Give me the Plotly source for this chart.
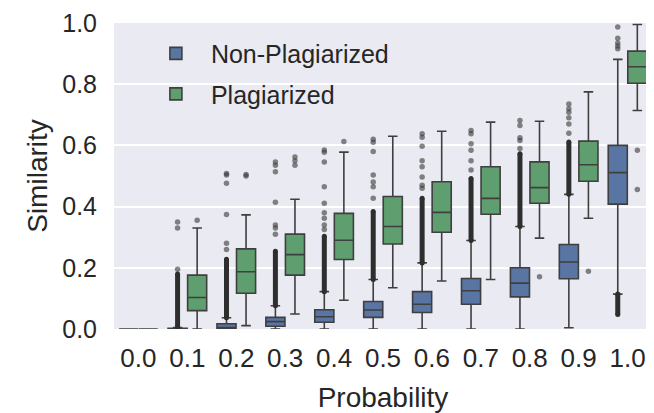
import plotly.graph_objects as go

categories = ["0.0", "0.1", "0.2", "0.3", "0.4", "0.5", "0.6", "0.7", "0.8", "0.9", "1.0"]

# Non-Plagiarized box statistics
np_q1 = [0.0, 0.0, 0.0, 0.009, 0.022, 0.038, 0.054, 0.081, 0.105, 0.164, 0.408]
np_med = [0.0, 0.0, 0.005, 0.024, 0.040, 0.062, 0.081, 0.125, 0.150, 0.219, 0.511]
np_q3 = [0.0, 0.002, 0.017, 0.038, 0.063, 0.090, 0.122, 0.165, 0.200, 0.276, 0.600]
np_lo = [0.0, 0.0, 0.0, 0.0, 0.0, 0.0, 0.0, 0.0, 0.0, 0.004, 0.114]
np_hi = [0.0, 0.005, 0.037, 0.076, 0.122, 0.162, 0.216, 0.289, 0.335, 0.440, 0.881]

# Plagiarized box statistics
pl_q1 = [0.0, 0.060, 0.117, 0.176, 0.227, 0.278, 0.316, 0.375, 0.411, 0.483, 0.803]
pl_med = [0.0, 0.103, 0.187, 0.243, 0.290, 0.335, 0.381, 0.427, 0.462, 0.537, 0.857]
pl_q3 = [0.0, 0.176, 0.262, 0.310, 0.378, 0.433, 0.481, 0.530, 0.546, 0.614, 0.908]
pl_lo = [0.0, 0.0, 0.011, 0.049, 0.094, 0.135, 0.157, 0.162, 0.297, 0.362, 0.714]
pl_hi = [0.0, 0.330, 0.373, 0.424, 0.578, 0.630, 0.646, 0.676, 0.679, 0.775, 0.995]

# Outliers: dense ranges (drawn as packed strips) and sparse individual points
np_dense = [None, [0.005, 0.18], [0.037, 0.228], [0.076, 0.254], [0.122, 0.303],
            [0.162, 0.384], [0.216, 0.427], [0.289, 0.492], [0.335, 0.573],
            [0.44, 0.611], [0.047, 0.114]]
np_sparse = [[], [0.195, 0.33, 0.35],
             [0.26, 0.28, 0.374, 0.476, 0.503, 0.508],
             [0.31, 0.33, 0.34, 0.414, 0.514, 0.535, 0.546],
             [0.325, 0.34, 0.362, 0.38, 0.411, 0.465, 0.546, 0.578, 0.585],
             [0.427, 0.465, 0.48, 0.503, 0.58, 0.61, 0.62],
             [0.46, 0.47, 0.497, 0.53, 0.55, 0.597, 0.627, 0.638],
             [0.52, 0.55, 0.584, 0.605, 0.638, 0.649],
             [0.59, 0.616, 0.625, 0.665, 0.681],
             [0.64, 0.67, 0.69, 0.708, 0.72, 0.735],
             [0.916, 0.925, 0.935, 0.95, 0.987]]
pl_sparse = [[], [0.355], [0.50, 0.505], [0.535, 0.55, 0.562], [0.613], [], [], [],
             [0.171], [0.189], [0.584, 0.456]]

BLUE = "#5875a4"
GREEN = "#5f9e6e"
EDGE = "#3f3f3f"
OFF = 0.2
BW = 0.39

xb = [i - OFF for i in range(len(categories))]
xg = [i + OFF for i in range(len(categories))]

fig = go.Figure()

fig.add_trace(go.Box(
    name="Non-Plagiarized", x=xb, q1=np_q1, median=np_med, q3=np_q3,
    lowerfence=np_lo, upperfence=np_hi, width=BW, boxpoints=False,
    fillcolor=BLUE, line=dict(color=EDGE, width=1.6), whiskerwidth=0.5,
    legendgroup="a",
))
fig.add_trace(go.Box(
    name="Plagiarized", x=xg, q1=pl_q1, median=pl_med, q3=pl_q3,
    lowerfence=pl_lo, upperfence=pl_hi, width=BW, boxpoints=False,
    fillcolor=GREEN, line=dict(color=EDGE, width=1.6), whiskerwidth=0.5,
    legendgroup="b",
))

# dense outlier strips
dx, dy = [], []
for i, rng in enumerate(np_dense):
    if rng is None:
        continue
    dx += [xb[i], xb[i], None]
    dy += [rng[0], rng[1], None]
fig.add_trace(go.Scatter(x=dx, y=dy, mode="lines+markers", showlegend=False,
                         line=dict(color="#2e2e2e", width=5),
                         marker=dict(color="#2e2e2e", size=5), hoverinfo="skip"))

# sparse outliers
sx, sy = [], []
for i, vals in enumerate(np_sparse):
    sx += [xb[i]] * len(vals)
    sy += vals
for i, vals in enumerate(pl_sparse):
    sx += [xg[i]] * len(vals)
    sy += vals
fig.add_trace(go.Scatter(x=sx, y=sy, mode="markers", showlegend=False,
                         marker=dict(color="rgba(55,55,55,0.6)", size=5.5),
                         hoverinfo="skip"))

FONT = "Liberation Sans, Arial, sans-serif"
fig.update_layout(
    width=646, height=405,
    margin=dict(l=106, r=2, t=15, b=84, autoexpand=False),
    paper_bgcolor="white", plot_bgcolor="#eaeaf2",
    boxmode="overlay",
    font=dict(family=FONT, color="#262626", size=25),
    showlegend=True,
    legend=dict(x=0.05, y=0.975, xanchor="left", yanchor="top",
                bgcolor="rgba(0,0,0,0)", font=dict(size=25, color="#262626"),
                itemwidth=60, tracegroupgap=5),
    xaxis=dict(range=[-0.5, 10.5], tickmode="array",
               tickvals=list(range(len(categories))), ticktext=categories,
               showgrid=False, zeroline=False, showline=False, automargin=False,
               ticks="", ticklabelstandoff=11, ticklabeloverflow="allow",
               title=dict(text="Probability", font=dict(size=28), standoff=15),
               tickfont=dict(size=26)),
    yaxis=dict(range=[0, 1.0], tickvals=[0, 0.2, 0.4, 0.6, 0.8, 1.0],
               ticktext=["0.0", "0.2", "0.4", "0.6", "0.8", "1.0"],
               showgrid=True, gridcolor="white", gridwidth=2, automargin=False,
               zeroline=False, showline=False, ticks="", ticklabelstandoff=16,
               ticklabeloverflow="allow",
               title=dict(text="Similarity", font=dict(size=28), standoff=6),
               tickfont=dict(size=25)),
)

fig.write_html("out.html")
